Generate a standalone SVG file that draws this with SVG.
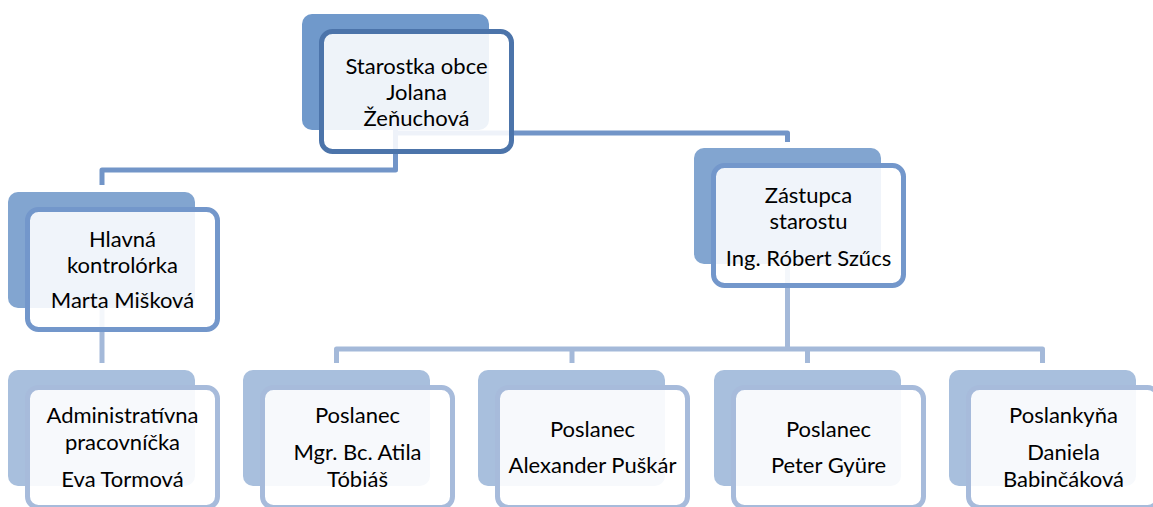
<svg xmlns="http://www.w3.org/2000/svg" width="1153" height="507" viewBox="0 0 1153 507">
<style>
.bg{fill:#fff}
.c1{fill:none;stroke:#7295c8;stroke-width:5;stroke-linejoin:round}
.c2{fill:none;stroke:#a4b9d9;stroke-width:5;stroke-linejoin:round}
.b1{fill:#7099cb}
.f1{fill:#fff;fill-opacity:0.88;stroke:#4c74aa;stroke-width:5}
.b2{fill:#82a5d0}
.f2{fill:#fff;fill-opacity:0.88;stroke:#7397cb;stroke-width:5}
.b3{fill:#a8bfdd}
.f3{fill:#fff;fill-opacity:0.9;stroke:#a7bbdb;stroke-width:5}
text{font-family:"Lato","Liberation Sans",sans-serif;font-size:22px;fill:#000;text-anchor:middle}
</style>
<rect class="bg" width="1153" height="507"/>
<g id="connectors">
<path class="c1" d="M395.5,130 V170 H102 V185"/>
<path class="c1" d="M395.5,133 H787.5 V142"/>
<path class="c2" d="M102,308 V363"/>
<path class="c2" d="M787.5,264 V349"/>
<path class="c2" d="M336.5,363 V349 H1042.5 V363"/>
<path class="c2" d="M572,349 V363"/>
<path class="c2" d="M807.5,349 V363"/>
</g>
<g id="starostka">
<rect class="b1" x="302" y="14" width="187" height="116" rx="10"/>
<rect class="f1" x="321.5" y="31.5" width="190" height="120" rx="11"/>
<text x="416.5" y="74">Starostka obce</text>
<text x="416.5" y="100">Jolana</text>
<text x="416.5" y="126">Žeňuchová</text>
</g>
<g id="kontrolorka">
<rect class="b2" x="8" y="192" width="187" height="116" rx="10"/>
<rect class="f2" x="27.5" y="209.5" width="190" height="120" rx="11"/>
<text x="122.5" y="247">Hlavná</text>
<text x="122.5" y="273">kontrolórka</text>
<text x="122.5" y="308">Marta Mišková</text>
</g>
<g id="zastupca">
<rect class="b2" x="694" y="148" width="187" height="116" rx="10"/>
<rect class="f2" x="713.5" y="165.5" width="190" height="120" rx="11"/>
<text x="808.5" y="203">Zástupca</text>
<text x="808.5" y="229">starostu</text>
<text x="808.5" y="266">Ing. Róbert Szűcs</text>
</g>
<g id="administrativna">
<rect class="b3" x="8" y="370" width="187" height="116" rx="10"/>
<rect class="f3" x="27.5" y="387.5" width="190" height="120" rx="11"/>
<text x="122.5" y="423">Administratívna</text>
<text x="122.5" y="450">pracovníčka</text>
<text x="122.5" y="487">Eva Tormová</text>
</g>
<g id="tobias">
<rect class="b3" x="243" y="370" width="187" height="116" rx="10"/>
<rect class="f3" x="262.5" y="387.5" width="190" height="120" rx="11"/>
<text x="357.5" y="423">Poslanec</text>
<text x="357.5" y="460">Mgr. Bc. Atila</text>
<text x="357.5" y="487">Tóbiáš</text>
</g>
<g id="puskar">
<rect class="b3" x="478" y="370" width="187" height="116" rx="10"/>
<rect class="f3" x="497.5" y="387.5" width="190" height="120" rx="11"/>
<text x="592.5" y="437">Poslanec</text>
<text x="592.5" y="473">Alexander Puškár</text>
</g>
<g id="gyure">
<rect class="b3" x="714" y="370" width="187" height="116" rx="10"/>
<rect class="f3" x="733.5" y="387.5" width="190" height="120" rx="11"/>
<text x="828.5" y="437">Poslanec</text>
<text x="828.5" y="473">Peter Gyüre</text>
</g>
<g id="babincakova">
<rect class="b3" x="949" y="370" width="187" height="116" rx="10"/>
<rect class="f3" x="968.5" y="387.5" width="190" height="120" rx="11"/>
<text x="1063.5" y="423">Poslankyňa</text>
<text x="1063.5" y="460">Daniela</text>
<text x="1063.5" y="487">Babinčáková</text>
</g>
</svg>
